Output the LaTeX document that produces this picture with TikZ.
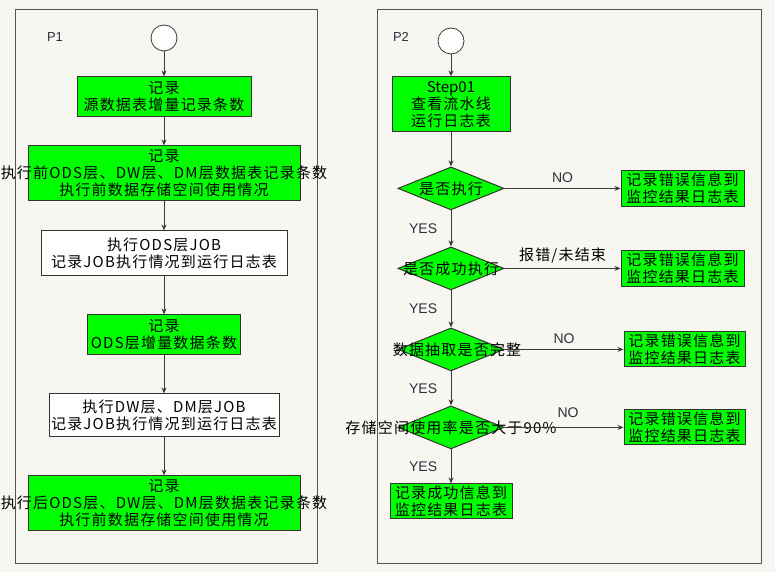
\documentclass[tikz,border=0pt]{standalone}
\usepackage{fontspec}
\setmainfont{Noto Sans CJK SC}
\newfontfamily\latinfont{Liberation Sans}
\usetikzlibrary{positioning, shapes.geometric, arrows.meta}
\definecolor{canvas}  {HTML}{F8F6F0}
\definecolor{clFrame} {HTML}{555555}
\definecolor{clLine}  {HTML}{3A3A3A}
\definecolor{clStep}  {HTML}{00FF00}
\definecolor{bStep}   {HTML}{333333}
\definecolor{clLabel} {HTML}{2E2E40}
\newcommand{\wideline}[1]{\makebox[0pt]{#1}}

\begin{document}
\begin{tikzpicture}[
    x=1pt, y=-1pt,
    every node/.style={font=\fontsize{15}{17}\selectfont\addfontfeature{LetterSpace=8}, text=black},
    stepbox/.style={
        draw=bStep, fill=clStep, line width=1pt,
        align=center, inner sep=1pt
    },
    jobbox/.style={
        draw=bStep, fill=white, line width=1pt,
        align=center, inner sep=1pt
    },
    decision/.style={
        diamond, draw=bStep, fill=clStep, line width=1pt,
        minimum width=106pt, minimum height=43pt, inner sep=0pt
    },
    startnode/.style={
        circle, draw=clLine, fill=white, line width=0.8pt,
        minimum size=26pt, inner sep=0pt
    },
    arrow/.style={-{Stealth[length=6pt, width=5pt]}, line width=1pt, draw=clLine},
    tag/.style={font=\latinfont\fontsize{14}{16}\selectfont, text=clLabel},
    panel/.style={draw=clFrame, line width=1pt}
]

% ── BACKGROUND ─────────────────────────────────────────────────
\fill[canvas] (0,0) rectangle (775,572);
\draw[panel] (15,10) rectangle (317,563);
\draw[panel] (377,10) rectangle (761,563);

\node[tag, font=\latinfont\fontsize{13}{15}\selectfont] (p1) at (55,37) {P1};
\node[tag, font=\latinfont\fontsize{13}{15}\selectfont] (p2) at (401,37) {P2};

% ── P1: record / execute chain ─────────────────────────────────
\node[startnode] (s1) at (164,38) {};

\node[stepbox, below=25pt of s1,
      minimum width=174pt, minimum height=40pt] (src)
    {记录\\源数据表增量记录条数};

\node[stepbox, below=28pt of src,
      minimum width=272pt, minimum height=55pt] (pre)
    {记录\\\wideline{执行前ODS层、DW层、DM层数据表记录条数}\\执行前数据存储空间使用情况};

\node[jobbox, below=29pt of pre,
      minimum width=246pt, minimum height=45pt] (odsjob)
    {执行ODS层JOB\\记录JOB执行情况到运行日志表};

\node[stepbox, below=38pt of odsjob,
      minimum width=153pt, minimum height=40pt] (odsinc)
    {记录\\ODS层增量数据条数};

\node[jobbox, below=38pt of odsinc,
      minimum width=230pt, minimum height=43pt] (dwjob)
    {执行DW层、DM层JOB\\\wideline{记录JOB执行情况到运行日志表}};

\node[stepbox, below=38pt of dwjob,
      minimum width=272pt, minimum height=55pt] (post)
    {记录\\\wideline{执行后ODS层、DW层、DM层数据表记录条数}\\执行前数据存储空间使用情况};

\draw[arrow] (s1) -- (src);
\draw[arrow] (src) -- (pre);
\draw[arrow] (pre) -- (odsjob);
\draw[arrow] (odsjob) -- (odsinc);
\draw[arrow] (odsinc) -- (dwjob);
\draw[arrow] (dwjob) -- (post);

% ── P2: checks ─────────────────────────────────────────────────
\node[startnode] (s2) at (451,41) {};

\node[stepbox, below=22pt of s2,
      minimum width=118pt, minimum height=55pt] (look)
    {{\addfontfeature{LetterSpace=0}Step01}\\查看流水线\\运行日志表};

\node[decision, below=34pt of look] (run)   {\wideline{是否执行}};
\node[decision, below=36pt of run]  (ok)    {\wideline{是否成功执行}};
\node[decision, below=37pt of ok]   (full)  {\wideline{\hspace{12pt}数据抽取是否完整}};
\node[decision, below=34pt of full] (space) {\wideline{存储空间使用率是否大于90\%}};

\node[stepbox, below=34pt of space,
      minimum width=122pt, minimum height=35pt] (done)
    {记录成功信息到\\监控结果日志表};

% error boxes
\node[stepbox, right=116pt of run,
      minimum width=123pt, minimum height=36pt] (err1)
    {记录错误信息到\\监控结果日志表};
\node[stepbox, right=116pt of ok,
      minimum width=123pt, minimum height=36pt] (err2)
    {记录错误信息到\\监控结果日志表};
\node[stepbox, right=119pt of full,
      minimum width=121pt, minimum height=35pt] (err3)
    {记录错误信息到\\监控结果日志表};
\node[stepbox, right=119pt of space,
      minimum width=121pt, minimum height=35pt] (err4)
    {记录错误信息到\\监控结果日志表};

\draw[arrow] (s2) -- (look);
\draw[arrow] (look) -- (run);
\draw[arrow] (run) -- node[tag, left=10pt]{YES} (ok);
\draw[arrow] (ok) -- node[tag, left=10pt]{YES} (full);
\draw[arrow] (full) -- node[tag, left=10pt]{YES} (space);
\draw[arrow] (space) -- node[tag, left=10pt]{YES} (done);

\draw[arrow] (run) -- node[tag, above=2pt]{NO} (err1);
\draw[arrow] (ok) -- node[above=1pt]{报错/未结束} (err2);
\draw[arrow] (full) -- node[tag, above=2pt]{NO} (err3);
\draw[arrow] (space) -- node[tag, above=6pt, xshift=4pt]{NO} (err4);

\end{tikzpicture}
\end{document}
